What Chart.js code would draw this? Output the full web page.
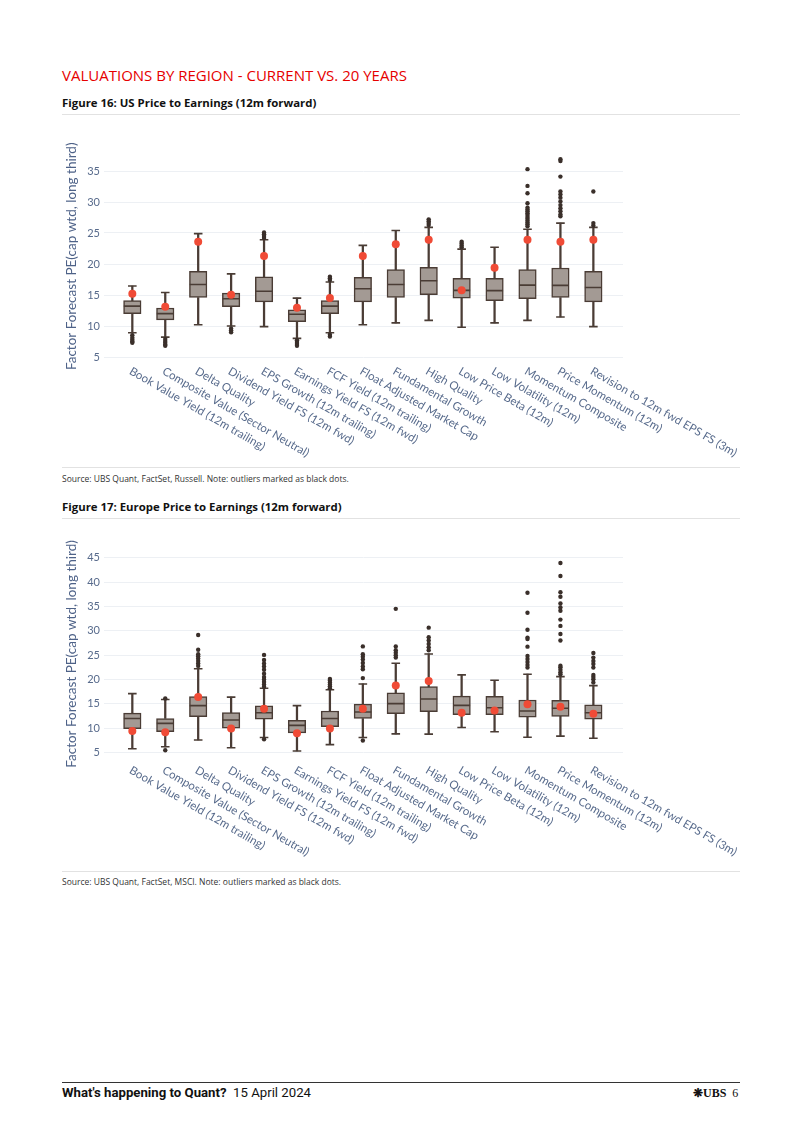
<!DOCTYPE html>
<html><head><meta charset="utf-8">
<script src="https://cdn.jsdelivr.net/npm/chart.js@4.4.1/dist/chart.umd.min.js"></script>
<style>
html,body{margin:0;padding:0;background:#fff;}
#page{position:relative;width:802px;height:1134px;overflow:hidden;font-family:"Open Sans",sans-serif;background:#fff;}
.abs{position:absolute;white-space:nowrap;line-height:1;}
.title{left:62px;top:68px;font-size:15px;color:#e60000;}
.fig{left:62px;font-size:11.4px;font-weight:700;color:#111;}
.src{left:62px;font-size:8.5px;color:#333;}
.rule{position:absolute;left:62px;width:678px;height:1px;background:#e2e2e2;}
.foot{left:62px;top:1086px;font-size:13.2px;color:#111;font-family:"Liberation Sans Narrow","Roboto",sans-serif;}
.foot b{font-weight:700;}
.logo{left:693px;top:1087px;font-size:12px;color:#111;font-family:"Liberation Serif",serif;font-weight:700;}
</style></head><body>
<div id="page">
  <div class="abs title">VALUATIONS BY REGION - CURRENT VS. 20 YEARS</div>
  <div class="abs fig" style="top:97px">Figure 16: US Price to Earnings (12m forward)</div>
  <div class="rule" style="top:114px"></div>
  <div class="abs" style="left:0;top:120px;"><canvas id="c1" width="802" height="345" style="width:802px;height:345px"></canvas></div>
  <div class="rule" style="top:467px"></div>
  <div class="abs src" style="top:475px">Source: UBS Quant, FactSet, Russell. Note: outliers marked as black dots.</div>
  <div class="abs fig" style="top:501px">Figure 17: Europe Price to Earnings (12m forward)</div>
  <div class="rule" style="top:518px"></div>
  <div class="abs" style="left:0;top:520px;"><canvas id="c2" width="802" height="350" style="width:802px;height:350px"></canvas></div>
  <div class="rule" style="top:871px"></div>
  <div class="abs src" style="top:878px">Source: UBS Quant, FactSet, MSCI. Note: outliers marked as black dots.</div>
  <div class="rule" style="top:1082px;background:#333"></div>
  <div class="abs foot"><b>What's happening to Quant?</b>&nbsp; 15 April 2024</div>
  <div class="abs logo">&#10059;UBS&nbsp; <span style="font-weight:400">6</span></div>
</div>
<script>
const categories = ["Book Value Yield (12m trailing)","Composite Value (Sector Neutral)","Delta Quality","Dividend Yield FS (12m fwd)","EPS Growth (12m trailing)","Earnings Yield FS (12m fwd)","FCF Yield (12m trailing)","Float Adjusted Market Cap","Fundamental Growth","High Quality","Low Price Beta (12m)","Low Volatility (12m)","Momentum Composite","Price Momentum (12m)","Revision to 12m fwd EPS FS (3m)"];

// US
const usTicks  = [5,10,15,20,25,30,35];
const usLow    = [8.9, 8.2, 10.2, 10.0, 9.9, 8.0, 8.9, 10.2, 10.5, 10.9, 9.8, 10.5, 10.9, 11.45, 9.9];
const usQ1     = [12.0, 11.0, 14.6, 13.1, 13.9, 10.7, 12.0, 13.9, 14.6, 15.05, 14.5, 14.1, 14.4, 14.6, 13.9];
const usMedian = [13.2, 12.0, 16.7, 14.4, 15.6, 11.9, 13.2, 16.0, 16.7, 17.3, 15.75, 15.7, 16.6, 16.55, 16.2];
const usQ3     = [14.1, 12.9, 18.8, 15.3, 17.95, 12.6, 14.1, 17.85, 19.1, 19.45, 17.7, 17.7, 19.1, 19.35, 18.8];
const usHigh   = [16.45, 15.4, 24.9, 18.4, 23.9, 14.5, 17.1, 23.0, 25.4, 25.9, 22.4, 22.7, 25.6, 26.6, 25.9];
const usCurrent= [15.2, 13.1, 23.6, 15.05, 21.3, 12.95, 14.5, 21.3, 23.2, 23.9, 15.75, 19.4, 23.9, 23.6, 23.9];
const usOutliers = [
  [8.5, 8.1, 7.8, 7.5, 7.3],
  [7.9, 7.6, 7.3, 7.0, 6.8],
  [],
  [9.6, 9.3, 9.0],
  [24.2, 24.5, 24.8, 25.1],
  [7.7, 7.4, 7.1, 6.8],
  [17.4, 17.7, 17.95, 8.6, 8.3],
  [],
  [],
  [26.3, 26.6, 26.9, 27.2],
  [22.7, 23.0, 23.3, 23.6],
  [],
  [26.1, 26.4, 26.7, 27.0, 27.3, 27.6, 27.9, 28.2, 28.5, 28.8, 29.1, 29.8, 31.4, 32.6, 35.3],
  [27.7, 28.0, 28.5, 29.0, 29.5, 30.1, 30.7, 31.2, 31.7, 34.1, 36.6, 36.9],
  [26.2, 26.6, 31.7]
];

// Europe
const euTicks  = [5,10,15,20,25,30,35,40,45];
const euLow    = [5.8, 6.2, 7.6, 6.0, 8.1, 5.35, 6.65, 8.1, 8.85, 8.8, 10.15, 9.3, 8.15, 8.4, 7.95];
const euQ1     = [9.9, 9.3, 12.4, 10.0, 11.85, 9.05, 10.35, 12.0, 13.0, 13.4, 12.8, 12.8, 12.3, 12.45, 11.85];
const euMedian = [12.0, 11.0, 14.65, 11.7, 13.2, 10.6, 12.0, 13.35, 15.05, 16.0, 14.7, 14.2, 13.55, 14.1, 13.2];
const euQ3     = [13.1, 12.0, 16.5, 13.2, 14.6, 11.65, 13.55, 14.95, 17.25, 18.55, 16.6, 16.55, 15.8, 15.75, 14.8];
const euHigh   = [17.1, 15.9, 22.2, 16.4, 18.2, 14.65, 17.9, 19.1, 23.35, 25.25, 20.95, 19.85, 21.1, 20.6, 18.75];
const euCurrent= [9.45, 9.2, 16.4, 9.95, 14.0, 9.0, 9.95, 14.0, 18.8, 19.7, 13.2, 13.65, 14.95, 14.4, 13.0];
const euOutliers = [
  [],
  [16.1, 5.5],
  [22.8, 23.3, 23.8, 24.3, 24.8, 25.2, 26.1, 29.15],
  [],
  [18.5, 19.0, 19.5, 20.0, 20.5, 21.2, 22.0, 22.7, 23.3, 24.0, 25.05, 7.75],
  [],
  [18.2, 18.6, 19.0, 19.4, 19.8, 20.1],
  [20.3, 22.1, 22.7, 23.4, 24.1, 24.7, 25.2, 26.8, 7.5],
  [24.5, 25.0, 25.5, 26.0, 26.8, 34.5],
  [26.0, 26.6, 27.3, 28.0, 28.7, 30.65],
  [],
  [],
  [22.45, 23.0, 23.6, 24.2, 24.85, 26.75, 28.3, 28.6, 30.2, 33.7, 37.8],
  [21.1, 21.5, 22.0, 22.5, 22.85, 28.0, 29.35, 31.0, 32.3, 34.1, 34.8, 35.6, 37.0, 37.9, 41.25, 43.9],
  [19.4, 20.05, 20.5, 20.95, 22.45, 23.2, 23.8, 24.5, 25.45]
];

const DARK = '#4a3c35', BOX = '#a39a94', DOT = '#3a2f2a', RED = '#f04b36';
const AXIS_TXT = '#586b8c', TITLE_TXT = '#4e6288';

function buildDatasets(q1, med, q3, lo, hi, cur, outl) {
  const idx = categories.map((_, i) => i);
  return [
    {type:'line', label:'Current', data: idx.map(i => ({x:i, y:cur[i]})), showLine:false,
     pointRadius:4, pointBackgroundColor:RED, pointBorderWidth:0},
    {type:'line', label:'Median', data: idx.map(i => ({x:i, y:med[i]})), showLine:false,
     pointStyle:'line', pointRadius:8.5, pointBorderColor:DARK, pointBorderWidth:1.6},
    {type:'line', label:'Outliers', data: outl.flatMap((arr, i) => arr.map(v => ({x:i, y:v}))), showLine:false,
     pointRadius:2.2, pointBackgroundColor:DOT, pointBorderWidth:0},
    {type:'line', label:'Caps', data: idx.flatMap(i => [{x:i, y:lo[i]}, {x:i, y:hi[i]}]), showLine:false,
     pointStyle:'line', pointRadius:4.3, pointBorderColor:DARK, pointBorderWidth:1.6},
    {type:'bar', label:'Box', data: idx.map(i => ({x:i, y:[q1[i], q3[i]]})),
     backgroundColor:BOX, borderColor:DARK, borderWidth:1.5, borderSkipped:false, barThickness:17.5, grouped:false},
    {type:'bar', label:'Whisker', data: idx.flatMap(i => [{x:i, y:[lo[i], q1[i]]}, {x:i, y:[q3[i], hi[i]]}]),
     backgroundColor:DARK, borderWidth:0, barThickness:1.6, grouped:false}
  ];
}

const xLabelPlugin = {
  id: 'xLabels',
  afterDraw(chart) {
    const ctx = chart.ctx, xs = chart.scales.x, bottom = chart.chartArea.bottom;
    ctx.save();
    ctx.fillStyle = AXIS_TXT;
    ctx.font = '11.5px Lato';
    ctx.textAlign = 'left';
    ctx.textBaseline = 'middle';
    categories.forEach((c, i) => {
      const x = xs.getPixelForValue(i);
      ctx.save();
      ctx.translate(x - 2, bottom + 7);
      ctx.rotate(30 * Math.PI / 180);
      ctx.fillText(c, 0, 0);
      ctx.restore();
    });
    ctx.restore();
  }
};

function makeChart(id, ticks, yMin, yMax, padTop, padBottom, datasets) {
  return new Chart(document.getElementById(id), {
    type: 'bar',
    data: { datasets },
    plugins: [xLabelPlugin],
    options: {
      responsive: false, animation: false, events: [],
      layout: { padding: { left: 0, right: 179, top: padTop, bottom: padBottom } },
      plugins: { legend: { display: false }, tooltip: { enabled: false } },
      scales: {
        x: { type: 'linear', min: -0.86, max: 14.9, offset: false, display: false },
        y: {
          min: yMin, max: yMax,
          afterBuildTicks: s => { s.ticks = ticks.map(v => ({ value: v })); },
          afterFit: s => { s.width = 104; },
          grid: { color: '#edf0f4', lineWidth: 1, drawTicks: false },
          border: { display: false },
          ticks: { color: AXIS_TXT, font: { family: 'Lato', size: 11 }, padding: 4 },
          title: { display: true, text: 'Factor Forecast PE(cap wtd, long third)', color: TITLE_TXT,
                   font: { family: 'Lato', size: 13.5 }, padding: { top: 64, bottom: 0 } }
        }
      }
    }
  });
}

makeChart('c1', usTicks, 4, 38.5, 29.3, 101.8,
  buildDatasets(usQ1, usMedian, usQ3, usLow, usHigh, usCurrent, usOutliers));
makeChart('c2', euTicks, 3, 47.5, 25.5, 107.6,
  buildDatasets(euQ1, euMedian, euQ3, euLow, euHigh, euCurrent, euOutliers));
</script>
</body></html>
